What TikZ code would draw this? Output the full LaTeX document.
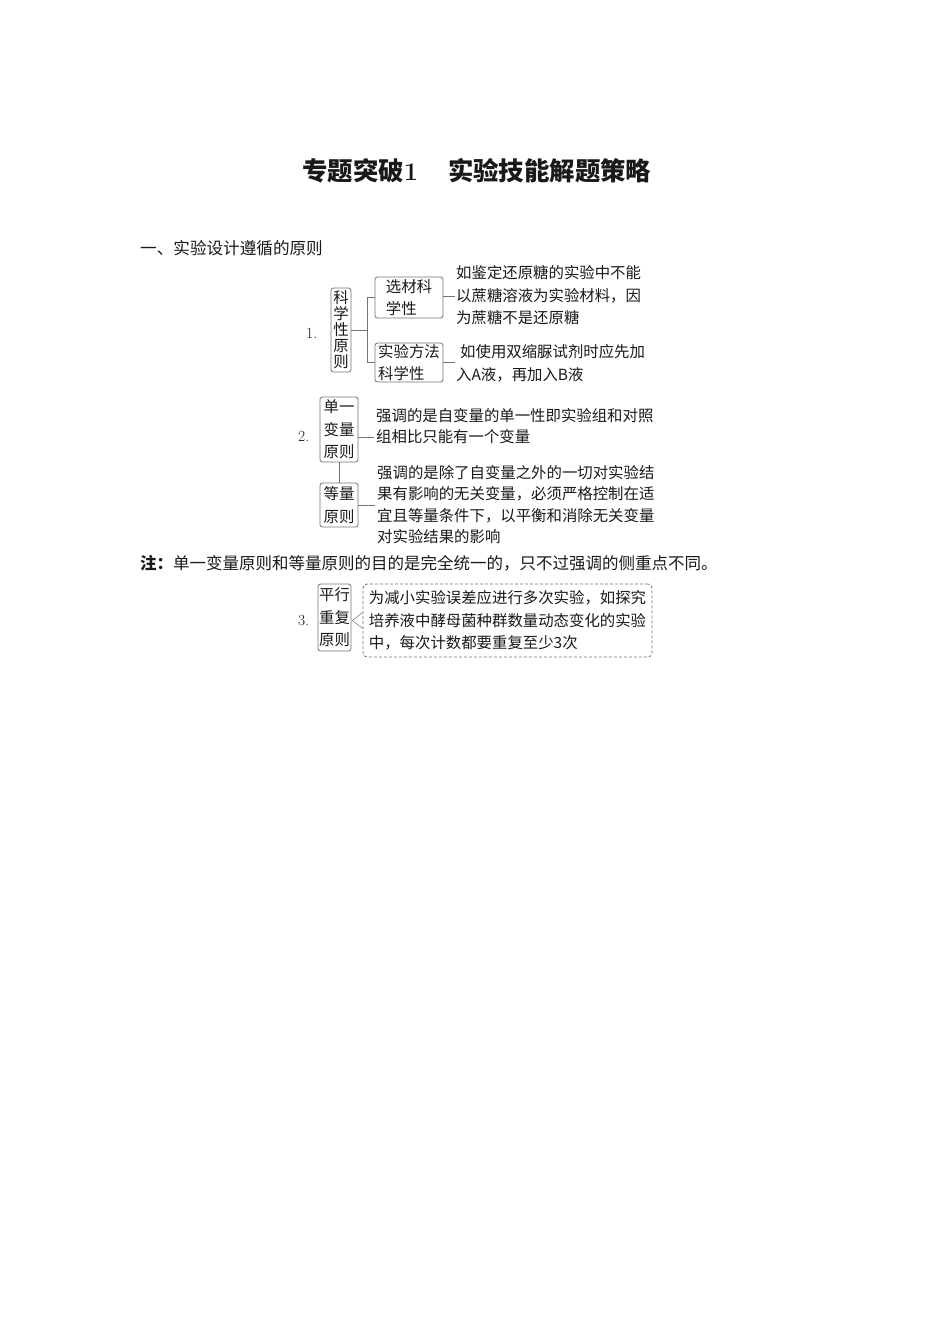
\documentclass[tikz,border=0pt]{standalone}
\usepackage{fontspec}
\newfontfamily\cjk{Noto Sans CJK SC}
\usetikzlibrary{positioning}
\definecolor{linegray}{RGB}{115,115,115}
\definecolor{inkgray}{RGB}{25,25,25}
\begin{document}
\begin{tikzpicture}[x=1pt,y=-1pt,
		every node/.style={inner sep=0pt, text=inkgray},
		box/.style={draw=linegray, line width=.8pt, rounded corners=2.5pt, align=left, font=\cjk\fontsize{15.4}{22.5}\selectfont},
		vbox/.style={box, align=center, font=\cjk\fontsize{15.4}{16}\selectfont},
		line/.style={anchor=west, font=\cjk\fontsize{15.4}{18}\selectfont},
		num/.style={anchor=west, font=\fontsize{15.5}{18}\selectfont},
		link/.style={draw=linegray, line width=.8pt}]
			\useasboundingbox (0,0) rectangle (950,1344);
			% title and heading
			\node[anchor=west, font=\cjk\bfseries\fontsize{25.4}{30}\selectfont] (title) at (302,171) {专题突破{\rmfamily\bfseries 1}\hspace{30pt}实验技能解题策略};
			\node[anchor=west, font=\cjk\fontsize{16.6}{20}\selectfont] (head) at (140,248) {一、实验设计遵循的原则};
			% 1. 科学性原则
			\node[num] (n1) at (306,333) {1.};
			\node[vbox, minimum width=20, minimum height=84] (kx) at (341,330) {科\\学\\性\\原\\则};
			\node[box, minimum width=68, minimum height=41] (xc) at (409,297.5) {选材科\\学性};
			\node[box, minimum width=68, minimum height=39] (ff) at (409,362.5) {实验方法\\科学性};
			\node[line] (a1) at (456,273) {如鉴定还原糖的实验中不能};
			\node[line] (a2) at (456,296) {以蔗糖溶液为实验材料，因};
			\node[line] (a3) at (456,318) {为蔗糖不是还原糖};
			\node[line] (b1) at (460,352) {如使用双缩脲试剂时应先加};
			\node[line] (b2) at (456,375) {入A液，再加入B液};
			\coordinate (k1) at ([xshift=16]kx.east);
			\draw[link] (kx.east) -- (k1);
			\draw[link] (xc.west) -| (k1) |- (ff.west);
			\draw[link] (xc.east |- a2.west) -- ([xshift=-1]a2.west);
			\draw[link] (ff.east) -- ([xshift=-1]ff.east -| b2.west);
			% 2. 单一变量原则 / 等量原则
			\node[num] (n2) at (298,436) {2.};
			\node[box, align=center, minimum width=38, minimum height=65] (dy) at (339,429.5) {单一\\变量\\原则};
			\node[box, align=center, minimum width=38, minimum height=44] (dl) at (339,505) {等量\\原则};
			\node[line] (c1) at (376,416) {强调的是自变量的单一性即实验组和对照};
			\node[line] (c2) at (376,437) {组相比只能有一个变量};
			\node[line] (d1) at (377,473) {强调的是除了自变量之外的一切对实验结};
			\node[line] (d2) at (377,494) {果有影响的无关变量，必须严格控制在适};
			\node[line] (d3) at (377,516) {宜且等量条件下，以平衡和消除无关变量};
			\node[line] (d4) at (377,537) {对实验结果的影响};
			\draw[link] (dy) -- (dl);
			\draw[link] (dy.east |- c2.west) -- ([xshift=-2]c2.west);
			\draw[link] (dl.east) -- ([xshift=-2]dl.east -| d2.west);
			% note
			\node[anchor=west, font=\cjk\fontsize{16.5}{20}\selectfont] (note) at (140,563) {{\bfseries 注：}单一变量原则和等量原则的目的是完全统一的，只不过强调的侧重点不同。};
			% 3. 平行重复原则
			\node[num] (n3) at (298,620) {3.};
			\node[box, align=center, minimum width=33, minimum height=67] (px) at (334.5,617.5) {平行\\重复\\原则};
			\node[box, dash pattern=on 3pt off 2pt, rounded corners=4pt, minimum width=289, minimum height=73] (pb) at (507.5,620.5) {为减小实验误差应进行多次实验，如探究\\培养液中酵母菌种群数量动态变化的实验\\中，每次计数都要重复至少3次};
			\draw[link, line width=.5pt] ([yshift=-8]pb.west) -- ([xshift=1]px.east |- pb.west) -- ([yshift=8]pb.west);
		\end{tikzpicture}
\end{document}
